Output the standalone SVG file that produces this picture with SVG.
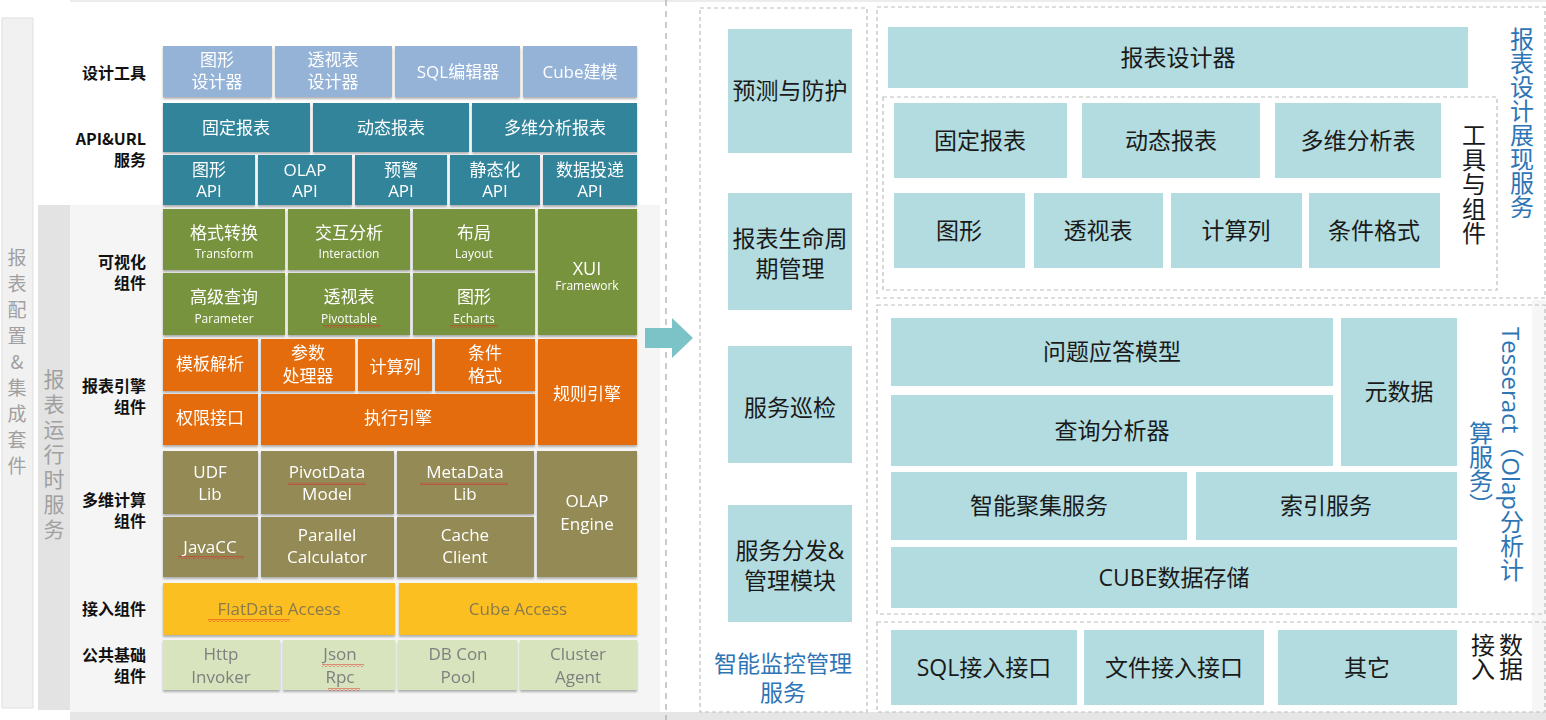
<svg xmlns="http://www.w3.org/2000/svg" width="1546" height="720" viewBox="0 0 1546 720">
<defs>
<style>
.mx{font-family:"Open Sans","Noto Sans CJK SC",sans-serif}
.w{fill:#ffffff;text-anchor:middle}
.w18{font-size:17px}
.en{font-size:12px}
.lbl{font-family:"Noto Sans CJK SC",sans-serif;font-size:16px;font-weight:bold;fill:#111;text-anchor:end}
.rc{fill:#b3dce0}
.rt{font-family:"Open Sans","Noto Sans CJK SC",sans-serif;font-size:23px;fill:#1a1a1a;text-anchor:middle}
.dash{fill:none;stroke:#bdbdbd;stroke-width:1.2;stroke-dasharray:4 3}
.strip{font-family:"Noto Sans CJK SC",sans-serif;fill:#a0a0a0;writing-mode:vertical-rl;text-orientation:upright}
.vt{font-family:"Open Sans","Noto Sans CJK SC",sans-serif;font-size:24px;fill:#1a1a1a;writing-mode:vertical-rl}
.blue{fill:#2e75b6}
.sq{fill:url(#wave)}
.ybox{font-family:"Open Sans","Noto Sans CJK SC",sans-serif;font-size:17px;fill:#8a7a4a;text-anchor:middle}
.gbox{font-family:"Open Sans","Noto Sans CJK SC",sans-serif;font-size:17px;fill:#7f7f7f;text-anchor:middle}
</style>
<filter id="sh" x="-5%" y="-5%" width="110%" height="120%">
<feDropShadow dx="0" dy="2" stdDeviation="0.8" flood-color="#7f7f7f" flood-opacity="0.6"/>
</filter>
<pattern id="wave" width="4" height="3" patternUnits="userSpaceOnUse">
<path d="M0 2.5 L2 0.5 L4 2.5" fill="none" stroke="#e02020" stroke-width="0.9"/>
</pattern>
</defs>

<!-- backgrounds -->
<rect x="0" y="0" width="1546" height="720" fill="#ffffff"/>
<rect x="70" y="0" width="1476" height="2" fill="#ececec"/>
<rect x="70" y="205" width="590" height="507" fill="#f5f5f5"/>
<rect x="70" y="712" width="1476" height="8" fill="#e6e6e6"/>
<rect x="1532" y="300" width="14" height="412" fill="#f6f6f6"/>

<!-- left strips -->
<g id="strip-config">
<rect x="2" y="18" width="31" height="690" fill="#f1f1f1" stroke="#e0e0e0"/>
<text class="strip" font-size="19px" letter-spacing="7" x="17" y="248">报表配置&amp;集成套件</text>
</g>
<g id="strip-runtime">
<rect x="38" y="205" width="32" height="505" fill="#e3e3e3"/>
<text class="strip" font-size="21px" letter-spacing="4" x="54" y="369">报表运行时服务</text>
</g>

<!-- row labels -->
<g id="row-labels">
<text class="lbl" x="146" y="79">设计工具</text>
<text class="lbl" x="146" y="145">API&amp;URL</text>
<text class="lbl" x="146" y="166">服务</text>
<text class="lbl" x="146" y="268">可视化</text>
<text class="lbl" x="146" y="289">组件</text>
<text class="lbl" x="146" y="392">报表引擎</text>
<text class="lbl" x="146" y="413">组件</text>
<text class="lbl" x="146" y="506">多维计算</text>
<text class="lbl" x="146" y="527">组件</text>
<text class="lbl" x="146" y="615">接入组件</text>
<text class="lbl" x="146" y="661">公共基础</text>
<text class="lbl" x="146" y="682">组件</text>
</g>

<!-- design tools -->
<g id="design-tools" filter="url(#sh)">
<g id="n-tuxing-designer"><rect x="163" y="46" width="109" height="51" fill="#95b3d7"/><text class="mx w w18" x="217" y="66">图形</text><text class="mx w w18" x="217" y="88">设计器</text></g>
<g id="n-pivot-designer"><rect x="275" y="46" width="117" height="51" fill="#95b3d7"/><text class="mx w w18" x="333" y="66">透视表</text><text class="mx w w18" x="333" y="88">设计器</text></g>
<g id="n-sql-editor"><rect x="395" y="46" width="125" height="51" fill="#95b3d7"/><text class="mx w w18" x="458" y="78">SQL编辑器</text></g>
<g id="n-cube-model"><rect x="523" y="46" width="114" height="51" fill="#95b3d7"/><text class="mx w w18" x="580" y="78">Cube建模</text></g>
</g>

<!-- API & URL -->
<g id="api-url" filter="url(#sh)">
<g id="n-fixed-report"><rect x="163" y="103" width="147" height="49" fill="#31849b"/><text class="mx w w18" x="236" y="134">固定报表</text></g>
<g id="n-dynamic-report"><rect x="313" y="103" width="156" height="49" fill="#31849b"/><text class="mx w w18" x="391" y="134">动态报表</text></g>
<g id="n-multi-report"><rect x="472" y="103" width="165" height="49" fill="#31849b"/><text class="mx w w18" x="555" y="134">多维分析报表</text></g>
<g id="n-chart-api"><rect x="163" y="155" width="92" height="50" fill="#31849b"/><text class="mx w w18" x="209" y="176">图形</text><text class="mx w w18" x="209" y="197">API</text></g>
<g id="n-olap-api"><rect x="258" y="155" width="94" height="50" fill="#31849b"/><text class="mx w w18" x="305" y="176">OLAP</text><text class="mx w w18" x="305" y="197">API</text></g>
<g id="n-alert-api"><rect x="355" y="155" width="92" height="50" fill="#31849b"/><text class="mx w w18" x="401" y="176">预警</text><text class="mx w w18" x="401" y="197">API</text></g>
<g id="n-static-api"><rect x="450" y="155" width="90" height="50" fill="#31849b"/><text class="mx w w18" x="495" y="176">静态化</text><text class="mx w w18" x="495" y="197">API</text></g>
<g id="n-deliver-api"><rect x="543" y="155" width="94" height="50" fill="#31849b"/><text class="mx w w18" x="590" y="176">数据投递</text><text class="mx w w18" x="590" y="197">API</text></g>
</g>

<!-- visualization -->
<g id="visual" filter="url(#sh)">
<g id="n-transform"><rect x="163" y="209" width="122" height="61" fill="#77933c"/><text class="mx w w18" x="224" y="239">格式转换</text><text class="mx w en" x="224" y="258">Transform</text></g>
<g id="n-interaction"><rect x="288" y="209" width="122" height="61" fill="#77933c"/><text class="mx w w18" x="349" y="239">交互分析</text><text class="mx w en" x="349" y="258">Interaction</text></g>
<g id="n-layout"><rect x="413" y="209" width="122" height="61" fill="#77933c"/><text class="mx w w18" x="474" y="239">布局</text><text class="mx w en" x="474" y="258">Layout</text></g>
<g id="n-parameter"><rect x="163" y="273" width="122" height="62" fill="#77933c"/><text class="mx w w18" x="224" y="303">高级查询</text><text class="mx w en" x="224" y="323">Parameter</text></g>
<g id="n-pivottable"><rect x="288" y="273" width="122" height="62" fill="#77933c"/><text class="mx w w18" x="349" y="303">透视表</text><text class="mx w en" x="349" y="323">Pivottable</text></g>
<g id="n-echarts"><rect x="413" y="273" width="122" height="62" fill="#77933c"/><text class="mx w w18" x="474" y="303">图形</text><text class="mx w en" x="474" y="323">Echarts</text></g>
<g id="n-xui"><rect x="538" y="209" width="99" height="126" fill="#77933c"/><text class="mx w" font-size="18px" x="587" y="275">XUI</text><text class="mx w en" x="587" y="290">Framework</text></g>
</g>

<!-- report engine -->
<g id="engine" filter="url(#sh)">
<g id="n-template"><rect x="163" y="339" width="95" height="52" fill="#e46c0a"/><text class="mx w w18" x="210" y="370">模板解析</text></g>
<g id="n-param-proc"><rect x="261" y="339" width="94" height="52" fill="#e46c0a"/><text class="mx w w18" x="308" y="359">参数</text><text class="mx w w18" x="308" y="382">处理器</text></g>
<g id="n-calc-col"><rect x="358" y="339" width="74" height="52" fill="#e46c0a"/><text class="mx w w18" x="395" y="373">计算列</text></g>
<g id="n-cond-format"><rect x="435" y="339" width="100" height="52" fill="#e46c0a"/><text class="mx w w18" x="485" y="359">条件</text><text class="mx w w18" x="485" y="382">格式</text></g>
<g id="n-permission"><rect x="163" y="394" width="95" height="51" fill="#e46c0a"/><text class="mx w w18" x="210" y="424">权限接口</text></g>
<g id="n-exec-engine"><rect x="261" y="394" width="274" height="51" fill="#e46c0a"/><text class="mx w w18" x="398" y="424">执行引擎</text></g>
<g id="n-rule-engine"><rect x="538" y="339" width="99" height="106" fill="#e46c0a"/><text class="mx w w18" x="587" y="400">规则引擎</text></g>
</g>

<!-- multi-dimensional compute -->
<g id="compute" filter="url(#sh)">
<g id="n-udf"><rect x="163" y="451" width="95" height="63" fill="#948a54"/><text class="mx w w18" x="210" y="478">UDF</text><text class="mx w w18" x="210" y="500">Lib</text></g>
<g id="n-pivotdata"><rect x="261" y="451" width="133" height="63" fill="#948a54"/><text class="mx w w18" x="327" y="478">PivotData</text><text class="mx w w18" x="327" y="500">Model</text></g>
<g id="n-metadata"><rect x="397" y="451" width="137" height="63" fill="#948a54"/><text class="mx w w18" x="465" y="478">MetaData</text><text class="mx w w18" x="465" y="500">Lib</text></g>
<g id="n-javacc"><rect x="163" y="517" width="95" height="60" fill="#948a54"/><text class="mx w w18" x="210" y="553">JavaCC</text></g>
<g id="n-parallel"><rect x="261" y="517" width="133" height="60" fill="#948a54"/><text class="mx w w18" x="327" y="541">Parallel</text><text class="mx w w18" x="327" y="563">Calculator</text></g>
<g id="n-cache"><rect x="397" y="517" width="137" height="60" fill="#948a54"/><text class="mx w w18" x="465" y="541">Cache</text><text class="mx w w18" x="465" y="563">Client</text></g>
<g id="n-olap-engine"><rect x="537" y="451" width="100" height="126" fill="#948a54"/><text class="mx w w18" x="587" y="507">OLAP</text><text class="mx w w18" x="587" y="530">Engine</text></g>
</g>

<!-- access -->
<g id="access" filter="url(#sh)">
<g id="n-flatdata"><rect x="163" y="583" width="232" height="52" fill="#fbbf24"/><text class="ybox" x="279" y="615">FlatData Access</text></g>
<g id="n-cubeaccess"><rect x="399" y="583" width="238" height="52" fill="#fbbf24"/><text class="ybox" x="518" y="615">Cube Access</text></g>
</g>

<!-- common base -->
<g id="common" filter="url(#sh)">
<g id="n-http"><rect x="163" y="640" width="117" height="50" fill="#d7e4bd"/><text class="gbox" x="221" y="660">Http</text><text class="gbox" x="221" y="683">Invoker</text></g>
<g id="n-json"><rect x="283" y="640" width="112" height="50" fill="#d7e4bd"/><text class="gbox" x="340" y="660">Json</text><text class="gbox" x="340" y="683">Rpc</text></g>
<g id="n-dbcon"><rect x="398" y="640" width="119" height="50" fill="#d7e4bd"/><text class="gbox" x="458" y="660">DB Con</text><text class="gbox" x="458" y="683">Pool</text></g>
<g id="n-cluster"><rect x="520" y="640" width="117" height="50" fill="#d7e4bd"/><text class="gbox" x="578" y="660">Cluster</text><text class="gbox" x="578" y="683">Agent</text></g>
</g>

<!-- spellcheck squiggles -->
<g id="squiggles">
<rect class="sq" x="323" y="325" width="58" height="3"/>
<rect class="sq" x="450" y="325" width="48" height="3"/>
<rect class="sq" x="288" y="482" width="78" height="3"/>
<rect class="sq" x="420" y="482" width="88" height="3"/>
<rect class="sq" x="178" y="556" width="66" height="3"/>
<rect class="sq" x="208" y="619" width="82" height="3"/>
<rect class="sq" x="322" y="664" width="42" height="3"/>
<rect class="sq" x="328" y="688" width="32" height="3"/>
</g>

<!-- connectors -->
<g id="connectors">
<line x1="666" y1="0" x2="666" y2="720" stroke="#a8a8a8" stroke-width="1.2" stroke-dasharray="6 5"/>
<path d="M645 328 H672 V318 L693 338 L672 358 V348 H645 Z" fill="#7cc3c8"/>
</g>

<!-- monitoring service -->
<g id="monitor">
<rect class="dash" x="700" y="8" width="167" height="704"/>
<g id="n-predict"><rect class="rc" x="728" y="29" width="124" height="124"/><text class="rt" x="790" y="99">预测与防护</text></g>
<g id="n-lifecycle"><rect class="rc" x="728" y="193" width="124" height="117"/><text class="rt" x="790" y="247">报表生命周</text><text class="rt" x="790" y="277">期管理</text></g>
<g id="n-inspect"><rect class="rc" x="728" y="346" width="124" height="117"/><text class="rt" x="790" y="416">服务巡检</text></g>
<g id="n-dispatch"><rect class="rc" x="728" y="505" width="124" height="117"/><text class="rt" x="790" y="559">服务分发&amp;</text><text class="rt" x="790" y="589">管理模块</text></g>
<text class="rt blue" x="783" y="672">智能监控管理</text>
<text class="rt blue" x="783" y="701">服务</text>
</g>

<!-- report design service -->
<g id="design-service">
<rect class="dash" x="877" y="7" width="668" height="291"/>
<g id="n-report-designer"><rect class="rc" x="888" y="27" width="580" height="61"/><text class="rt" x="1178" y="66">报表设计器</text></g>
<rect class="dash" x="883" y="97" width="614" height="193"/>
<g id="n-r-fixed"><rect class="rc" x="894" y="103" width="173" height="75"/><text class="rt" x="980" y="149">固定报表</text></g>
<g id="n-r-dynamic"><rect class="rc" x="1082" y="103" width="178" height="75"/><text class="rt" x="1171" y="149">动态报表</text></g>
<g id="n-r-multi"><rect class="rc" x="1275" y="103" width="166" height="75"/><text class="rt" x="1358" y="149">多维分析表</text></g>
<g id="n-r-chart"><rect class="rc" x="894" y="193" width="131" height="75"/><text class="rt" x="959" y="239">图形</text></g>
<g id="n-r-pivot"><rect class="rc" x="1034" y="193" width="129" height="75"/><text class="rt" x="1098" y="239">透视表</text></g>
<g id="n-r-calc"><rect class="rc" x="1171" y="193" width="131" height="75"/><text class="rt" x="1236" y="239">计算列</text></g>
<g id="n-r-cond"><rect class="rc" x="1309" y="193" width="131" height="75"/><text class="rt" x="1374" y="239">条件格式</text></g>
<text class="vt" x="1473" y="123" letter-spacing="0.5">工具与组件</text>
<text class="vt blue" x="1521" y="27">报表设计展现服务</text>
</g>

<!-- tesseract -->
<g id="tesseract">
<rect class="dash" x="877" y="305" width="668" height="309"/>
<g id="n-qa"><rect class="rc" x="891" y="318" width="442" height="68"/><text class="rt" x="1112" y="360">问题应答模型</text></g>
<g id="n-query"><rect class="rc" x="891" y="395" width="442" height="71"/><text class="rt" x="1112" y="439">查询分析器</text></g>
<g id="n-meta"><rect class="rc" x="1341" y="318" width="116" height="148"/><text class="rt" x="1399" y="400">元数据</text></g>
<g id="n-agg"><rect class="rc" x="891" y="472" width="296" height="68"/><text class="rt" x="1039" y="514">智能聚集服务</text></g>
<g id="n-index"><rect class="rc" x="1196" y="472" width="261" height="68"/><text class="rt" x="1326" y="514">索引服务</text></g>
<g id="n-cube"><rect class="rc" x="891" y="547" width="566" height="61"/><text class="rt" x="1174" y="586">CUBE数据存储</text></g>
<text class="vt blue" font-size="23px" x="1511" y="327">Tesseract（Olap分析计</text>
<text class="vt blue" font-size="23px" x="1480" y="421">算服务）</text>
</g>

<!-- data access -->
<g id="data-access">
<rect class="dash" x="877" y="622" width="668" height="90"/>
<g id="n-sql-if"><rect class="rc" x="891" y="630" width="186" height="75"/><text class="rt" x="984" y="676">SQL接入接口</text></g>
<g id="n-file-if"><rect class="rc" x="1084" y="630" width="180" height="75"/><text class="rt" x="1174" y="676">文件接入接口</text></g>
<g id="n-other"><rect class="rc" x="1278" y="630" width="179" height="75"/><text class="rt" x="1367" y="676">其它</text></g>
<text class="vt" x="1510" y="633">数据</text>
<text class="vt" x="1482" y="633">接入</text>
</g>
</svg>
